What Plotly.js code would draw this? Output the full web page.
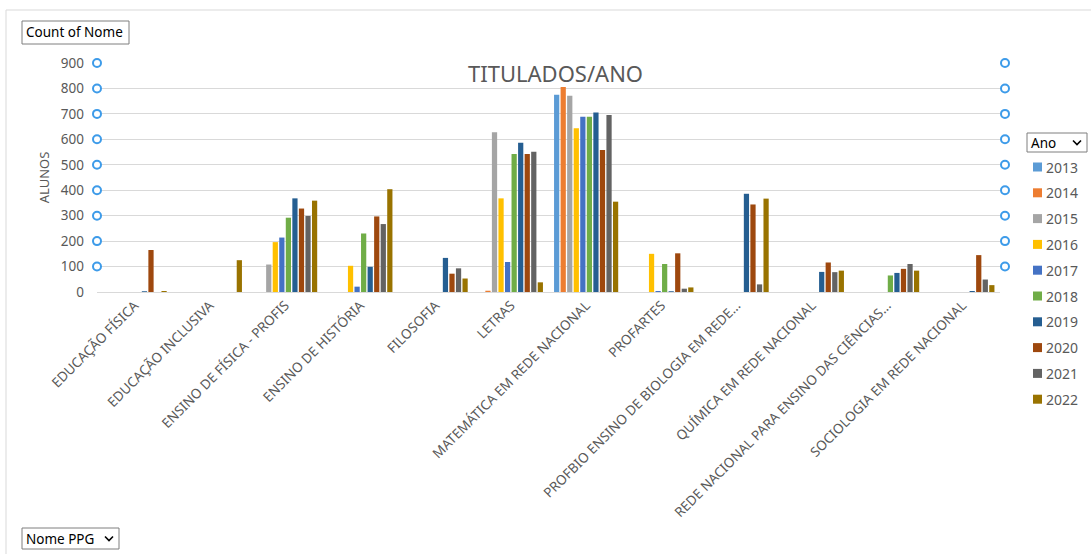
<!DOCTYPE html>
<html>
<head>
<meta charset="utf-8">
<script src="https://cdn.plot.ly/plotly-3.0.1.min.js"></script>
<style>
  html, body { margin: 0; padding: 0; background: #ffffff; }
  #chart { width: 1091px; height: 554px; }
</style>
</head>
<body>
<div id="chart"></div>
<script>
// Programas (PPG) on the category axis
const programas = [
  "EDUCAÇÃO FÍSICA",
  "EDUCAÇÃO INCLUSIVA",
  "ENSINO DE FÍSICA - PROFIS",
  "ENSINO DE HISTÓRIA",
  "FILOSOFIA",
  "LETRAS",
  "MATEMÁTICA EM REDE NACIONAL",
  "PROFARTES",
  "PROFBIO ENSINO DE BIOLOGIA EM REDE...",
  "QUÍMICA EM REDE NACIONAL",
  "REDE NACIONAL PARA ENSINO DAS CIÊNCIAS...",
  "SOCIOLOGIA EM REDE NACIONAL"
];

// Titulados per program, one array per year (null = no record)
const ano2013 = [null, null, null, null, null, null, 775, null, null, null, null, null];
const ano2014 = [null, null, null, null, null, 5, 806, null, null, null, null, null];
const ano2015 = [null, null, 108, null, null, 628, 771, null, null, null, null, null];
const ano2016 = [null, null, 196, 103, null, 368, 644, 150, null, null, null, null];
const ano2017 = [null, null, 214, 21, null, 118, 689, 4, null, null, null, null];
const ano2018 = [null, null, 292, 230, null, 542, 689, 110, null, null, 65, null];
const ano2019 = [3, null, 368, 99, 134, 587, 705, 3, 386, 79, 75, 4];
const ano2020 = [165, null, 328, 297, 72, 542, 558, 152, 344, 116, 91, 145];
const ano2021 = [null, null, 299, 267, 93, 551, 696, 13, 30, 78, 110, 49];
const ano2022 = [4, 125, 359, 404, 53, 38, 355, 18, 367, 84, 84, 27];

const anos = ["2013", "2014", "2015", "2016", "2017", "2018", "2019", "2020", "2021", "2022"];
const series = [ano2013, ano2014, ano2015, ano2016, ano2017, ano2018, ano2019, ano2020, ano2021, ano2022];
const cores = ["#5B9BD5", "#ED7D31", "#A5A5A5", "#FFC000", "#4472C4",
               "#70AD47", "#255E91", "#9E480E", "#636363", "#997300"];

const yTicks = [0, 100, 200, 300, 400, 500, 600, 700, 800, 900];
const yMax = 900;

// Plot-area geometry in pixels
const W = 1091, H = 554;
const M = { l: 97, r: 91, t: 63, b: 262 };
const PW = W - M.l - M.r, PH = H - M.t - M.b;
const px = x => (x - M.l) / PW;          // pixel x -> paper x
const py = y => (H - M.b - y) / PH;      // pixel y -> paper y

const grey = "#595959";
const baseFont = "Noto Sans, Open Sans, sans-serif";

const traces = anos.map((ano, i) => ({
  type: "bar",
  name: ano,
  x: programas,
  y: series[i],
  marker: { color: cores[i], line: { width: 0 } },
  showlegend: false,
  hovertemplate: "%{x}<br>" + ano + ": %{y}<extra></extra>"
}));

const shapes = [];
const annotations = [];

// Chart-area frame
shapes.push({
  type: "rect", xref: "paper", yref: "paper",
  x0: px(6), x1: px(1095), y0: py(560), y1: py(10),
  line: { color: "#d9d9d9", width: 1 }, fillcolor: "rgba(0,0,0,0)", layer: "below"
});

// Selection handles on both sides of the plot area, at each gridline
yTicks.filter(v => v > 0).forEach(v => {
  [0, px(1005)].forEach(xa => {
    shapes.push({
      type: "circle", xref: "paper", yref: "paper",
      xsizemode: "pixel", ysizemode: "pixel",
      xanchor: xa, yanchor: v / yMax,
      x0: -4, x1: 4, y0: -4, y1: 4,
      line: { color: "#3d9be9", width: 2 }, fillcolor: "#ffffff"
    });
  });
});

// Field buttons
function fieldButton(x0, y0, x1, y1, label, withArrow) {
  shapes.push({
    type: "rect", xref: "paper", yref: "paper",
    x0: px(x0), x1: px(x1), y0: py(y1), y1: py(y0),
    line: { color: "#7f7f7f", width: 1 }, fillcolor: "#ffffff"
  });
  annotations.push({
    xref: "paper", yref: "paper",
    x: px(x0 + 2), y: py((y0 + y1) / 2),
    xanchor: "left", yanchor: "middle", showarrow: false,
    text: label, font: { family: baseFont, size: 13.5, color: "#000000" }
  });
  if (withArrow) {
    const cx = x1 - 10, cy = (y0 + y1) / 2;
    shapes.push({
      type: "path", xref: "paper", yref: "paper",
      path: `M ${px(cx - 4)} ${py(cy - 2)} L ${px(cx)} ${py(cy + 2)} L ${px(cx + 4)} ${py(cy - 2)}`,
      line: { color: "#000000", width: 1.6 }
    });
  }
}
fieldButton(22, 21, 129, 44, "Count of Nome", false);
fieldButton(22, 528, 119, 549, "Nome PPG", true);
fieldButton(1027, 133, 1087, 152, "Ano", true);

// Year legend
anos.forEach((ano, i) => {
  const cy = 167 + i * 25.8;
  shapes.push({
    type: "rect", xref: "paper", yref: "paper",
    x0: px(1033), x1: px(1042), y0: py(cy + 4.5), y1: py(cy - 4.5),
    line: { width: 0 }, fillcolor: cores[i]
  });
  annotations.push({
    xref: "paper", yref: "paper",
    x: px(1044), y: py(cy),
    xanchor: "left", yanchor: "middle", showarrow: false,
    text: ano, font: { family: baseFont, size: 14, color: grey }
  });
});

// Chart title
annotations.push({
  xref: "paper", yref: "paper",
  x: px(555), y: py(73),
  xanchor: "center", yanchor: "middle", showarrow: false,
  text: "TITULADOS/ANO", font: { family: baseFont, size: 22, color: grey }
});

const layout = {
  width: W, height: H,
  margin: M,
  paper_bgcolor: "#ffffff",
  plot_bgcolor: "#ffffff",
  barmode: "group",
  bargap: 0.13,
  bargroupgap: 0.2,
  showlegend: false,
  font: { family: baseFont, color: grey },
  xaxis: {
    type: "category",
    tickangle: -45,
    tickfont: { family: baseFont, size: 13.5, color: grey },
    ticklabelstandoff: 2,
    showgrid: false,
    showline: false,
    ticks: "",
    fixedrange: true
  },
  yaxis: {
    range: [0, yMax],
    tickvals: yTicks,
    ticktext: yTicks.map(String),
    tickfont: { family: baseFont, size: 13.5, color: grey },
    ticklabelstandoff: 12,
    showgrid: true,
    gridcolor: "#d9d9d9",
    gridwidth: 1,
    zeroline: true,
    zerolinecolor: "#d9d9d9",
    zerolinewidth: 1,
    showline: false,
    title: { text: "ALUNOS", font: { family: baseFont, size: 13, color: grey }, standoff: 8 },
    fixedrange: true
  },
  shapes: shapes,
  annotations: annotations
};

Plotly.newPlot("chart", traces, layout, { displayModeBar: false, staticPlot: true });
</script>
</body>
</html>
